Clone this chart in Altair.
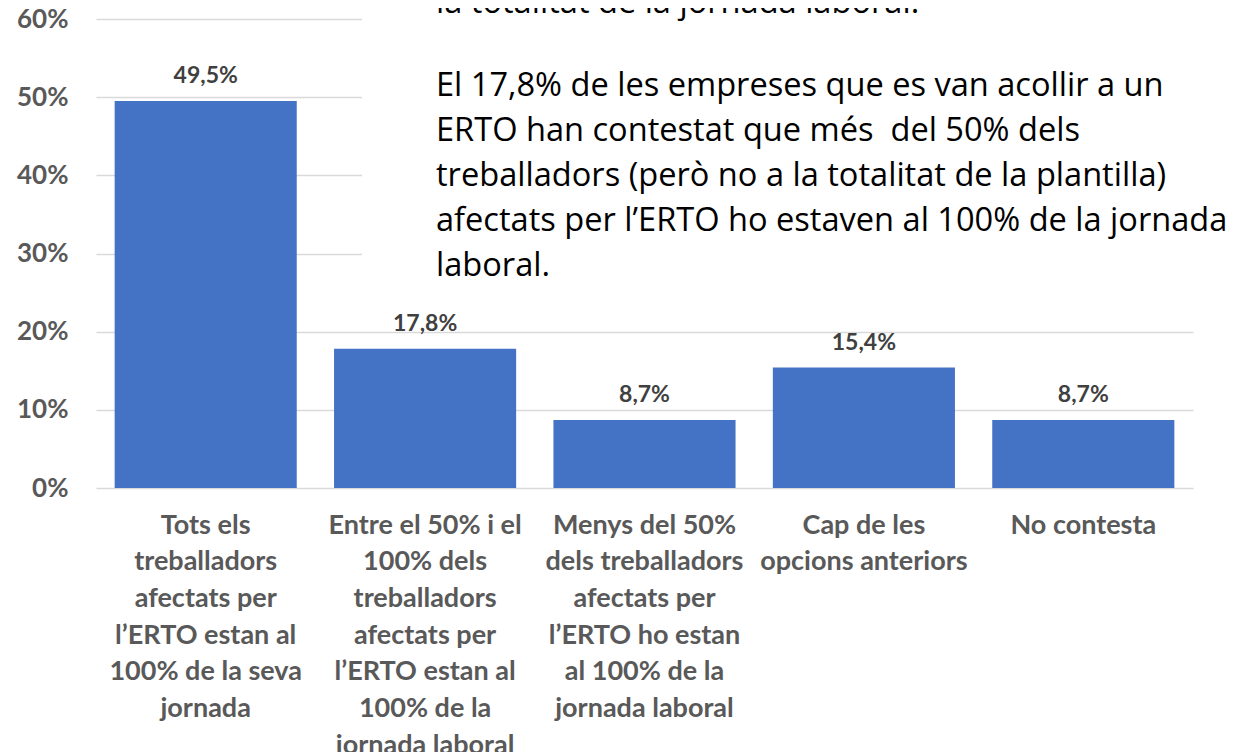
import altair as alt
import pandas as pd

# ---- data ----
category_lines = [
    ["Tots els", "treballadors", "afectats per", "l’ERTO estan al", "100% de la seva", "jornada"],
    ["Entre el 50% i el", "100% dels", "treballadors", "afectats per", "l’ERTO estan al", "100% de la", "jornada laboral"],
    ["Menys del 50%", "dels treballadors", "afectats per", "l’ERTO ho estan", "al 100% de la", "jornada laboral"],
    ["Cap de les", "opcions anteriors"],
    ["No contesta"],
]
values = [49.5, 17.8, 8.7, 15.4, 8.7]
y_ticks = [0, 10, 20, 30, 40, 50, 60]

top_line = ["la totalitat de la jornada laboral."]
paragraph = [
    "El 17,8% de les empreses que es van acollir a un",
    "ERTO han contestat que més\u00a0 del 50% dels",
    "treballadors (però no a la totalitat de la plantilla)",
    "afectats per l’ERTO ho estaven al 100% de la jornada",
    "laboral.",
]

categories = ["|".join(l) for l in category_lines]
df = pd.DataFrame({"cat": categories, "val": values})

FONT = "Lato"
TFONT = "Open Sans"
GRAY = "#595959"
BLUE = "#4472C4"

W, H = 1097, 469

base = alt.Chart(df).encode(
    x=alt.X(
        "cat:N",
        sort=categories,
        scale=alt.Scale(paddingInner=0.17, paddingOuter=0.085),
        axis=alt.Axis(
            title=None,
            labelAngle=0,
            labelExpr="split(datum.label, '|')",
            labelFont=FONT,
            labelFontSize=27,
            labelFontWeight="bold",
            labelColor=GRAY,
            labelLineHeight=36.7,
            labelBaseline="top",
            labelPadding=24,
            labelLimit=0,
            labelOverlap=False,
            domain=False,
            ticks=False,
            grid=False,
        ),
    ),
    y=alt.Y(
        "val:Q",
        scale=alt.Scale(domain=[0, 60], nice=False),
        axis=alt.Axis(
            title=None,
            values=y_ticks,
            labelExpr="datum.value + '%'",
            labelFont=FONT,
            labelFontSize=26,
            labelFontWeight="bold",
            labelColor=GRAY,
            labelPadding=28,
            domain=False,
            ticks=False,
            grid=True,
            gridColor="#d9d9d9",
            gridWidth=1.5,
        ),
    ),
)

bars = base.mark_bar(color=BLUE)

labels = base.transform_calculate(
    lab="replace(format(datum.val, '.1f'), '.', ',') + '%'"
).mark_text(
    font=FONT, fontSize=23, fontWeight="bold", color="#404040",
    baseline="alphabetic", dy=-18,
).encode(text="lab:N")

one = pd.DataFrame({"a": [0]})

cover = alt.Chart(one).mark_rect(color="white").encode(
    x=alt.value(266), x2=alt.value(1150),
    y=alt.value(-20), y2=alt.value(277),
)

top_text = alt.Chart(one).mark_text(
    font=TFONT, fontSize=32.6, color="#000000", align="left", baseline="alphabetic",
).encode(x=alt.value(340), y=alt.value(-6), text=alt.value(top_line[0]))

para_text = alt.Chart(one).mark_text(
    font=TFONT, fontSize=32.6, color="#000000", align="left", baseline="alphabetic",
    lineHeight=45,
).encode(x=alt.value(340), y=alt.value(77), text=alt.value(paragraph))

chart = alt.layer(bars, labels, cover, top_text, para_text).properties(
    width=W, height=H,
    autosize="none",
    padding={"left": 88, "top": 11, "right": 46, "bottom": 264},
).configure_view(stroke=None)

chart.save("out.html", embed_options={"renderer": "svg", "actions": False})
